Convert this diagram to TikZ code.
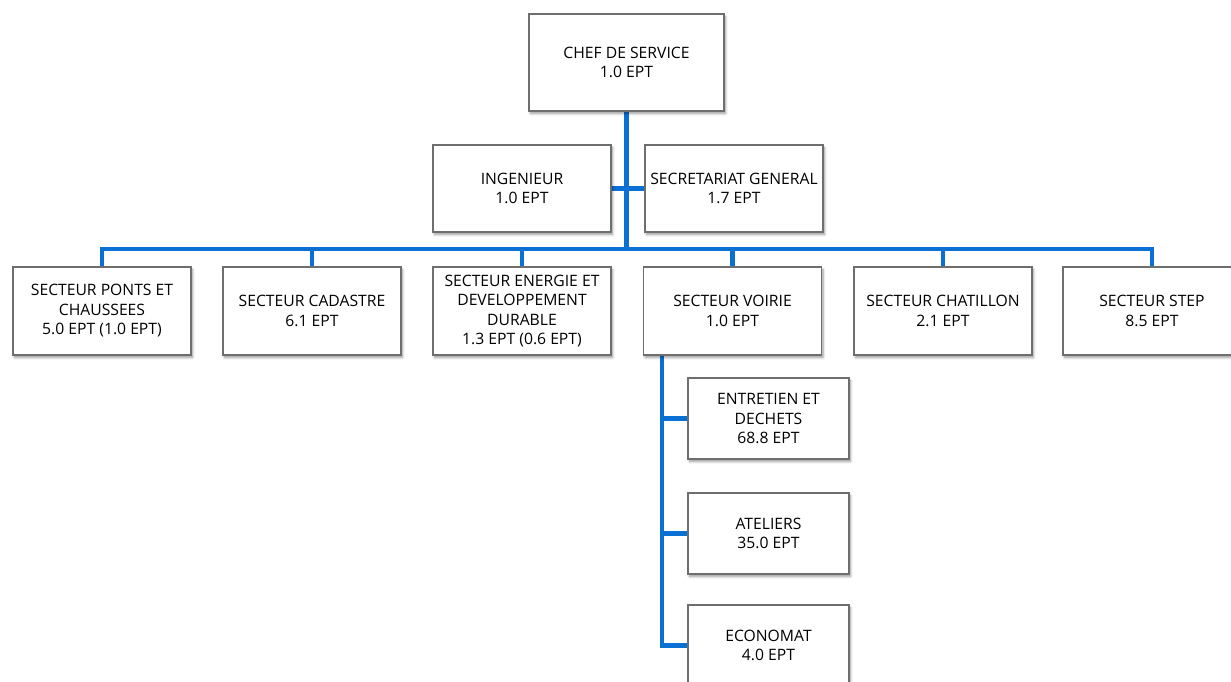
\documentclass[tikz,border=0pt]{standalone}
\usepackage{fontspec}
\setmainfont{Open Sans}
\usetikzlibrary{calc,shadows.blur,backgrounds}
\definecolor{linkblue}{RGB}{11,112,212}
\definecolor{boxedge}{RGB}{110,110,110}
\tikzset{
  orgbox/.style={draw=boxedge, line width=1.1pt, fill=white, align=center,
    inner sep=1pt, font=\fontsize{15.7}{19.5}\selectfont,
    blur shadow={shadow xshift=1.5pt, shadow yshift=-2.5pt, shadow blur steps=6,
      shadow blur radius=2.5pt, shadow opacity=40}},
  topbox/.style={orgbox, minimum width=195pt, minimum height=97pt},
  midbox/.style={orgbox, minimum width=178pt, minimum height=87pt},
  secbox/.style={orgbox, minimum width=178pt, minimum height=88pt},
  subbox/.style={orgbox, minimum width=161pt, minimum height=81pt},
  link/.style={draw=linkblue, line width=4.5pt}
}
\begin{document}
\begin{tikzpicture}[x=1pt,y=-1pt]
\useasboundingbox (0,0) rectangle (1231,681);

% head of service and its staff
\node[topbox] (chef) at (626.5,62.5) {CHEF DE SERVICE\\1.0 EPT};
\node[midbox] (ing) at (522,188.5) {INGENIEUR\\1.0 EPT};
\node[midbox] (sec) at (734,188.5) {SECRETARIAT GENERAL\\1.7 EPT};

% sectors
\node[secbox] (s1) at (102,311) {SECTEUR PONTS ET\\CHAUSSEES\\5.0 EPT (1.0 EPT)};
\node[secbox] (s2) at (312,311) {SECTEUR CADASTRE\\6.1 EPT};
\node[secbox] (s3) at (522,311) {SECTEUR ENERGIE ET\\DEVELOPPEMENT\\DURABLE\\1.3 EPT (0.6 EPT)};
\node[secbox] (s4) at (732.5,311) {SECTEUR VOIRIE\\1.0 EPT};
\node[secbox] (s5) at (943,311) {SECTEUR CHATILLON\\2.1 EPT};
\node[secbox] (s6) at (1152,311) {SECTEUR STEP\\8.5 EPT};

% units under the road sector
\node[subbox] (u1) at (768.5,418.5) {ENTRETIEN ET\\DECHETS\\68.8 EPT};
\node[subbox] (u2) at (768.5,533.5) {ATELIERS\\35.0 EPT};
\node[subbox] (u3) at (768.5,645.5) {ECONOMAT\\4.0 EPT};

% connectors
\coordinate (bus) at (627,249);
\coordinate (vtop) at ($(s4.south west)+(19,0)$);
\begin{scope}[on background layer]
  \draw[link] (chef.south) -- (chef.south |- bus);
  \draw[link] (ing.east) -- (sec.west);
  \draw[link] (s1.north) |- (bus) -| (s6.north);
  \foreach \s in {s2,s3,s4,s5} \draw[link] (\s.north) -- (\s.north |- bus);
  \draw[link] (s4.south -| vtop) |- (u3.west);
  \draw[link] (u1.west) -- (u1.west -| vtop);
  \draw[link] (u2.west) -- (u2.west -| vtop);
\end{scope}
\end{tikzpicture}
\end{document}
